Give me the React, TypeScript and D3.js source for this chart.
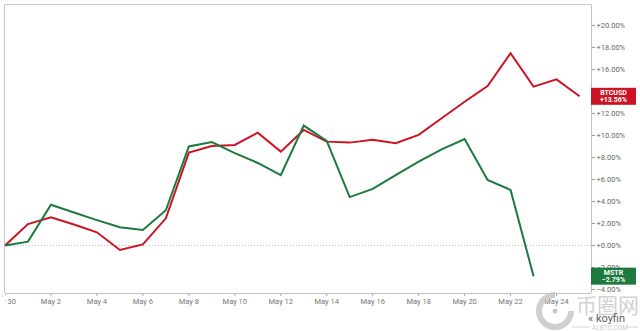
import React from "react";
import * as d3 from "d3";

const startDate = new Date(2024, 3, 30);
const btcValues = [0, 1.95, 2.56, 1.9, 1.2, -0.41, 0.1, 2.47, 8.44, 9.05, 9.14, 10.25, 8.53, 10.5, 9.44, 9.35, 9.6, 9.3, 10.05, 11.56, 13.07, 14.5, 17.47, 14.44, 15.1, 13.56];
const mstrValues = [0, 0.35, 3.7, 3.0, 2.3, 1.65, 1.4, 3.2, 9.0, 9.4, 8.4, 7.5, 6.4, 10.9, 9.5, 4.4, 5.14, 6.4, 7.62, 8.74, 9.68, 5.95, 5.05, -2.79];
const yTicks = [-4, -2, 0, 2, 4, 6, 8, 10, 12, 14, 16, 18, 20];
const xTickLabels = ["Apr 30", "May 2", "May 4", "May 6", "May 8", "May 10", "May 12", "May 14", "May 16", "May 18", "May 20", "May 22", "May 24"];
const seriesNames = ["BTCUSD", "MSTR"];
const seriesColors = ["#cc1424", "#1c7a3e"];

const dayOf = (i: number) => d3.timeDay.offset(startDate, i);

export default function App() {
  const W = 640, H = 331;
  const left = 5, right = 591, top = 5, bottom = 293;
  const x = d3.scaleTime()
    .domain([startDate, d3.timeHour.offset(dayOf(25), 12)])
    .range([left, right]);
  const y = d3.scaleLinear().domain([-4.32, 21.86]).range([bottom, top]);
  const line = d3.line<number>()
    .x((_, i) => x(dayOf(i)))
    .y((d) => y(d));
  const fmt = d3.format("+.2f");
  const font = "Roboto, 'Liberation Sans', Arial, sans-serif";
  const series = [btcValues, mstrValues];

  return (
    <div style={{ position: "absolute", left: 0, top: 0 }}>
      <svg width={W} height={H} style={{ display: "block", background: "#fff" }} fontFamily={font}>
        <defs>
          <clipPath id="xclip">
            <rect x={5} y={bottom} width={W} height={40} />
          </clipPath>
        </defs>
        {/* frame */}
        <line x1={left - 0.5} x2={right} y1={top - 0.5} y2={top - 0.5} stroke="#c8c8c8" strokeWidth={1} />
        <line x1={left - 0.5} x2={left - 0.5} y1={top - 0.5} y2={bottom} stroke="#c8c8c8" strokeWidth={1} />
        <line x1={right + 0.5} x2={right + 0.5} y1={top - 0.5} y2={bottom} stroke="#c0c0c0" strokeWidth={1} />
        <line x1={left} x2={right} y1={bottom + 0.5} y2={bottom + 0.5} stroke="#c0c0c0" strokeWidth={1} />
        {/* zero line */}
        <line x1={left} x2={right} y1={y(0)} y2={y(0)} stroke="#bbb" strokeWidth={1} strokeDasharray="1,2" />

        {/* y axis right */}
        {yTicks.map((t) => (
          <g key={t} transform={`translate(0,${y(t)})`}>
            <line x1={right + 1} x2={right + 4} stroke="#999" strokeWidth={1} />
            <text x={right + 5.5} dy="0.35em" fontSize={7.5} fill="#666">{fmt(t)}%</text>
          </g>
        ))}

        {/* x axis */}
        <line x1={2} x2={3} y1={bottom + 3} y2={bottom + 3} stroke="#aaa" strokeWidth={1} />
        <g clipPath="url(#xclip)">
          {xTickLabels.map((lab, i) => {
            const xv = x(dayOf(i * 2));
            return (
              <g key={lab} transform={`translate(${xv},0)`}>
                <line y1={bottom + 1} y2={bottom + 3} stroke="#aaa" strokeWidth={1} />
                <text y={bottom + 11} textAnchor="middle" fontSize={7.5} fill="#777">{lab}</text>
              </g>
            );
          })}
        </g>

        {/* series */}
        {series.map((vals, k) => (
          <path key={k} d={line(vals) || ""} fill="none" stroke={seriesColors[k]} strokeWidth={2} strokeLinejoin="miter" />
        ))}

        {/* end labels */}
        {series.map((vals, k) => {
          const last = vals[vals.length - 1];
          const cy = y(last);
          return (
            <g key={k} transform={`translate(${right},${cy - 8.5})`}>
              <rect width={45} height={17} fill={seriesColors[k]} />
              <text x={22.5} y={7} textAnchor="middle" fontSize={7} fontWeight="bold" fill="#fff">{seriesNames[k]}</text>
              <text x={22.5} y={14.5} textAnchor="middle" fontSize={7} fontWeight="bold" fill="#fff">{fmt(last)}%</text>
            </g>
          );
        })}

        {/* watermark */}
        <g opacity={0.8}>
          <circle cx={555} cy={311} r={16} fill="none" stroke="#c4c4c4" strokeWidth={6} strokeDasharray="75,26" />
          <circle cx={555} cy={311} r={2.5} fill="#bbb" />
          <text x={576} y={313} fontSize={21} fill="#c8c8c8" fontFamily="'Noto Sans CJK SC', sans-serif">币圈网</text>
          <text x={588} y={322} fontSize={11} fill="#333" fontFamily={font}>« koyfin</text>
          <line x1={572} x2={590} y1={327} y2={327} stroke="#ccc" strokeWidth={1} />
          <text x={592} y={330} fontSize={6.5} fill="#c0c0c0" fontFamily={font}>ALBTC.COM</text>
          <line x1={626} x2={638} y1={327} y2={327} stroke="#ccc" strokeWidth={1} />
        </g>
      </svg>
    </div>
  );
}
